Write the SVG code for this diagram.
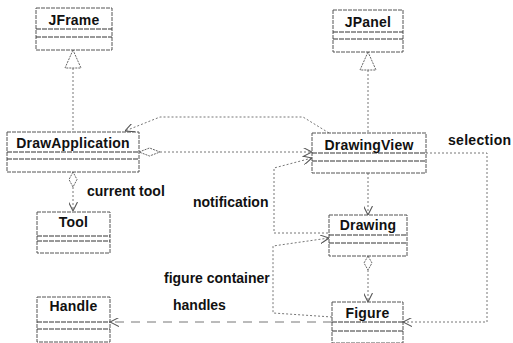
<svg xmlns="http://www.w3.org/2000/svg" width="513" height="343" viewBox="0 0 513 343">
  <style>
    .box { fill: #ffffff; stroke: #555; stroke-width: 1; stroke-dasharray: 4 1; }
    .sep { stroke: #333; stroke-width: 1; stroke-dasharray: 5 1; }
    .name { font-family: "Liberation Sans", Arial, sans-serif; font-weight: bold; font-size: 14px; text-anchor: middle; fill: #111; letter-spacing: 0.2px; }
    .label { font-family: "Liberation Sans", Arial, sans-serif; font-weight: bold; font-size: 14px; fill: #111; }
    .conn { fill: none; stroke: #777; stroke-width: 1; stroke-dasharray: 2 2; }
    .long { stroke-dasharray: 9 7; }
    .hollow { fill: #ffffff; stroke: #666; stroke-width: 1; stroke-dasharray: 2 1; }
  </style>
  <defs>
    <marker id="open" viewBox="0 0 10 10" refX="10" refY="5" markerWidth="9" markerHeight="9" markerUnits="userSpaceOnUse" orient="auto">
      <path d="M0,0 L10,5 L0,10" fill="none" stroke="#555" stroke-width="1.2"/>
    </marker>
  </defs>

  <rect width="513" height="343" fill="#ffffff"/>

  <!-- connectors -->
  <g id="connectors">
    <!-- generalizations -->
    <line class="conn" x1="73" y1="68" x2="73" y2="132"/>
    <polygon class="hollow" points="73,50 65,68 81,68"/>
    <line class="conn" x1="368" y1="70" x2="368" y2="133"/>
    <polygon class="hollow" points="368,52 360,70 376,70"/>
    <!-- dependency DrawingView -> DrawApplication -->
    <polyline class="conn" points="329,133 303,117 160,117 125,131" marker-end="url(#open)"/>
    <!-- aggregation DrawApplication -> DrawingView -->
    <polygon class="hollow" points="139,152 149.5,148 160,152 149.5,156"/>
    <line class="conn" x1="160" y1="152" x2="312" y2="152" marker-end="url(#open)"/>
    <!-- notification -->
    <polyline class="conn" points="328,233 274,233 274,168 312,158" marker-end="url(#open)"/>
    <!-- current tool -->
    <polygon class="hollow" points="73,172 69,179.5 73,187 77,179.5"/>
    <line class="conn" x1="73" y1="187" x2="73" y2="211" marker-end="url(#open)"/>
    <!-- DrawingView -> Drawing -->
    <line class="conn" x1="368" y1="173" x2="368" y2="215" marker-end="url(#open)"/>
    <!-- Drawing -> Figure -->
    <polygon class="hollow" points="368,256 364,263 368,270 372,263"/>
    <line class="conn" x1="368" y1="270" x2="368" y2="302" marker-end="url(#open)"/>
    <!-- figure container -->
    <polyline class="conn" points="332,317 273,313 273,246 329,238" marker-end="url(#open)"/>
    <!-- selection -->
    <polyline class="conn" points="426,153 487,153 487,322 403,322" marker-end="url(#open)"/>
    <!-- handles -->
    <line class="conn long" x1="332" y1="322" x2="110" y2="322" marker-end="url(#open)"/>
  </g>

  <!-- connector labels -->
  <g id="labels">
    <text class="label" x="87" y="196">current tool</text>
    <text class="label" x="193" y="207">notification</text>
    <text class="label" x="448" y="145" letter-spacing="0.3">selection</text>
    <text class="label" x="164" y="283">figure container</text>
    <text class="label" x="173" y="310">handles</text>
  </g>

  <!-- classes -->
  <g id="JFrame">
    <rect class="box" x="36" y="8" width="76" height="42"/>
    <line class="sep" x1="36" y1="29" x2="112" y2="29"/>
    <line class="sep" x1="36" y1="37" x2="112" y2="37"/>
    <text class="name" x="74" y="25">JFrame</text>
  </g>
  <g id="JPanel">
    <rect class="box" x="333" y="10" width="70" height="42"/>
    <line class="sep" x1="333" y1="32" x2="403" y2="32"/>
    <line class="sep" x1="333" y1="39" x2="403" y2="39"/>
    <text class="name" x="368" y="27">JPanel</text>
  </g>
  <g id="DrawApplication">
    <rect class="box" x="7" y="132" width="132" height="40"/>
    <line class="sep" x1="7" y1="152" x2="139" y2="152"/>
    <line class="sep" x1="7" y1="159" x2="139" y2="159"/>
    <text class="name" x="73" y="148">DrawApplication</text>
  </g>
  <g id="DrawingView">
    <rect class="box" x="312" y="133" width="114" height="40"/>
    <line class="sep" x1="312" y1="153" x2="426" y2="153"/>
    <line class="sep" x1="312" y1="161" x2="426" y2="161"/>
    <text class="name" x="369" y="150">DrawingView</text>
  </g>
  <g id="Tool">
    <rect class="box" x="37" y="212" width="73" height="41"/>
    <line class="sep" x1="37" y1="236" x2="110" y2="236"/>
    <line class="sep" x1="37" y1="241" x2="110" y2="241"/>
    <text class="name" x="73.5" y="227">Tool</text>
  </g>
  <g id="Drawing">
    <rect class="box" x="329" y="215" width="78" height="41"/>
    <line class="sep" x1="329" y1="235" x2="407" y2="235"/>
    <line class="sep" x1="329" y1="243" x2="407" y2="243"/>
    <text class="name" x="368" y="230">Drawing</text>
  </g>
  <g id="Handle">
    <rect class="box" x="37" y="297" width="73" height="45"/>
    <line class="sep" x1="37" y1="322" x2="110" y2="322"/>
    <line class="sep" x1="37" y1="329" x2="110" y2="329"/>
    <text class="name" x="73.5" y="311">Handle</text>
  </g>
  <g id="Figure">
    <rect class="box" x="332" y="302" width="71" height="41"/>
    <line class="sep" x1="332" y1="322" x2="403" y2="322"/>
    <line class="sep" x1="332" y1="331" x2="403" y2="331"/>
    <text class="name" x="367.5" y="318">Figure</text>
  </g>
</svg>
